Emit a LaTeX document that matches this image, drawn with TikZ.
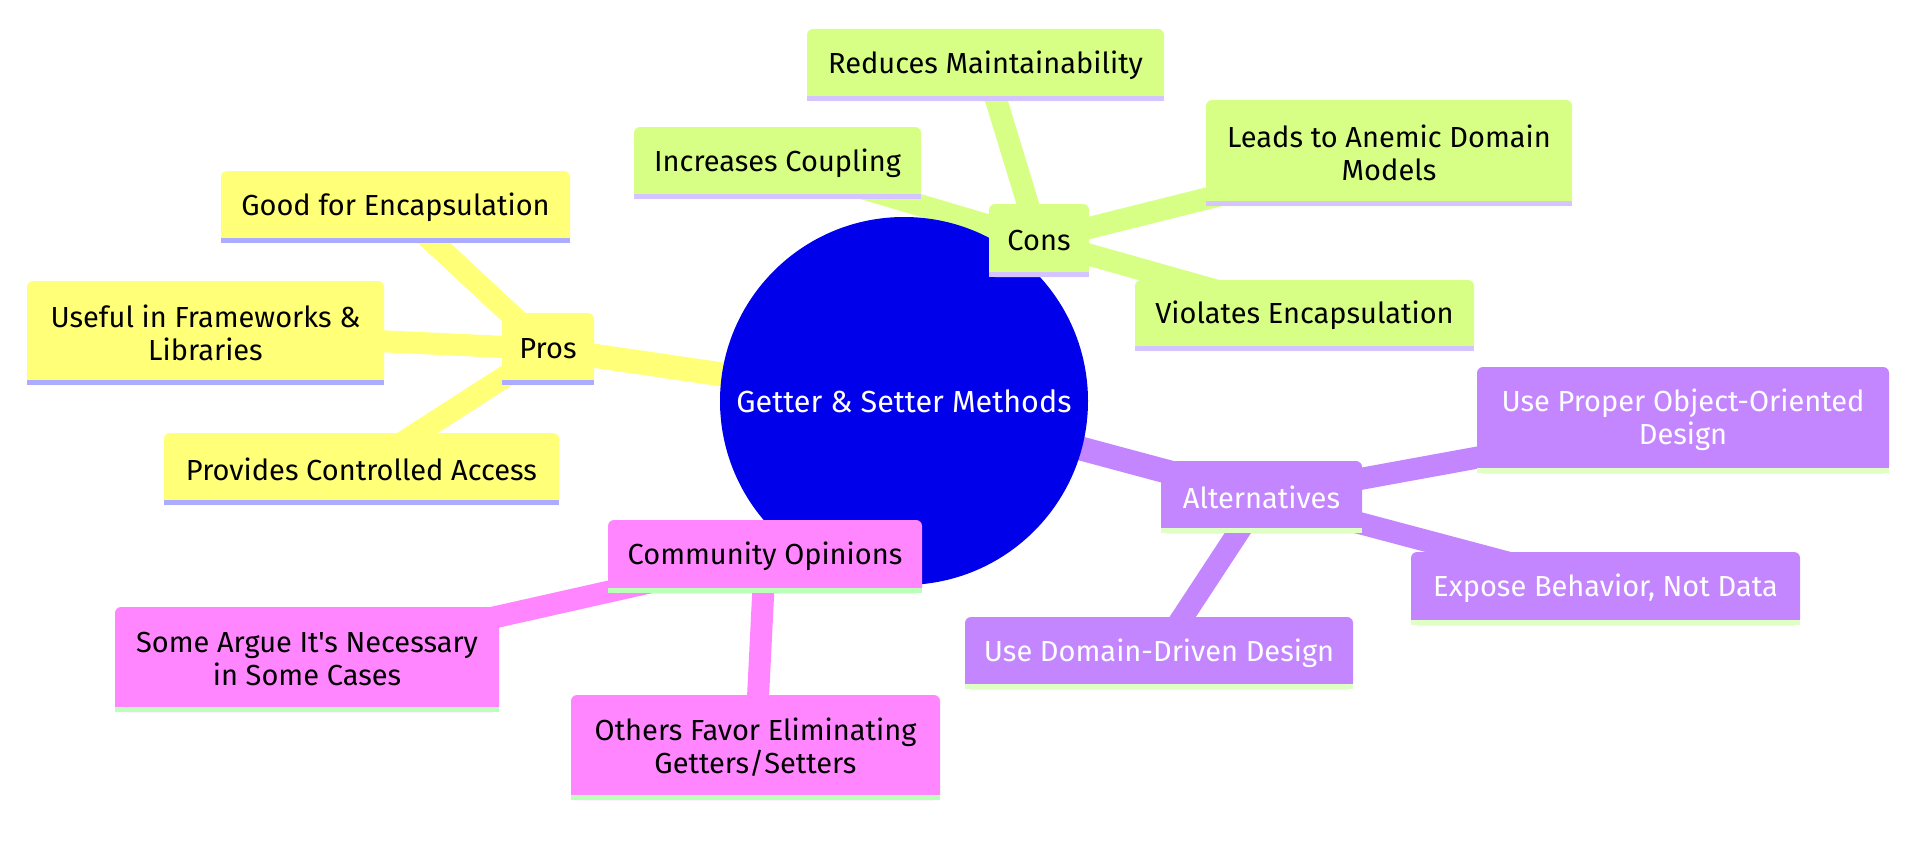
\documentclass[tikz,border=0pt]{standalone}
\usepackage{fontspec}
\setmainfont{Fira Sans}[Ligatures=TeXOff]
\definecolor{proY}{HTML}{FFFF78}
\definecolor{proBar}{HTML}{ABABFF}
\definecolor{conG}{HTML}{D7FF86}
\definecolor{conBar}{HTML}{D4C4FF}
\definecolor{altP}{HTML}{C386FF}
\definecolor{altBar}{HTML}{DFFFC4}
\definecolor{comP}{HTML}{FF86FF}
\definecolor{comBar}{HTML}{BBFFBB}
\definecolor{rootB}{HTML}{0000EA}
\pgfdeclarelayer{edges}
\pgfsetlayers{edges,main}
\begin{document}
\begin{tikzpicture}[x=1pt, y=-1pt, every node/.style={font=\fontsize{29}{33}\selectfont},
  mnode/.style={rectangle, rounded corners=6pt, inner sep=0pt, align=center},
  rootnode/.style={circle, fill=rootB, text=white, minimum size=368pt, inner sep=0pt,
    font=\fontsize{30.5}{35}\selectfont},
  edge/.style={line width=22pt},
  rootedge/.style={line width=24pt}]
  \useasboundingbox (0,0) rectangle (1917,867);
  % Root
  \node[rootnode] (root) at (904,401) {Getter \& Setter Methods};
  % Pros
  \node[mnode, fill=proY, minimum width=92pt, minimum height=72pt] (pros) at (548,349) {Pros};
  \node[mnode, fill=proY, minimum width=349pt, minimum height=72pt] (good) at (395.5,207) {Good for Encapsulation};
  \node[mnode, fill=proY, minimum width=357pt, minimum height=104pt] (useful) at (205.5,333) {Useful in Frameworks \&\\Libraries};
  \node[mnode, fill=proY, minimum width=395pt, minimum height=72pt] (provides) at (361.5,469) {Provides Controlled Access};
  % Cons
  \node[mnode, fill=conG, minimum width=100pt, minimum height=73pt] (cons) at (1039,240.5) {Cons};
  \node[mnode, fill=conG, minimum width=357pt, minimum height=72pt] (reduces) at (985.5,65) {Reduces Maintainability};
  \node[mnode, fill=conG, minimum width=287pt, minimum height=72pt] (increases) at (777.5,163) {Increases Coupling};
  \node[mnode, fill=conG, minimum width=366pt, minimum height=106pt] (leads) at (1389,153) {Leads to Anemic Domain\\Models};
  \node[mnode, fill=conG, minimum width=339pt, minimum height=71pt] (violates) at (1304.5,315.5) {Violates Encapsulation};
  % Alternatives
  \node[mnode, fill=altP, text=white, minimum width=201pt, minimum height=72pt] (alt) at (1261.5,497) {Alternatives};
  \node[mnode, fill=altP, text=white, minimum width=412pt, minimum height=106pt] (ooDesign) at (1683,420) {Use Proper Object-Oriented\\Design};
  \node[mnode, fill=altP, text=white, minimum width=389pt, minimum height=73pt] (expose) at (1605.5,588.5) {Expose Behavior, Not Data};
  \node[mnode, fill=altP, text=white, minimum width=388pt, minimum height=72pt] (ddd) at (1159,653) {Use Domain-Driven Design};
  % Community Opinions
  \node[mnode, fill=comP, minimum width=314pt, minimum height=73pt] (comm) at (765,556.5) {Community Opinions};
  \node[mnode, fill=comP, minimum width=384pt, minimum height=105pt] (argue) at (307,659.5) {Some Argue It's Necessary\\in Some Cases};
  \node[mnode, fill=comP, minimum width=369pt, minimum height=105pt] (others) at (755.5,747.5) {Others Favor Eliminating\\Getters/Setters};
  % bars under the boxes
  \foreach \n/\c in {pros/proBar, good/proBar, useful/proBar, provides/proBar,
      cons/conBar, reduces/conBar, increases/conBar, leads/conBar, violates/conBar,
      alt/altBar, ooDesign/altBar, expose/altBar, ddd/altBar,
      comm/comBar, argue/comBar, others/comBar}
    \fill[\c] ([yshift=5pt]\n.south west) rectangle (\n.south east);
  % Edges
  \begin{pgfonlayer}{edges}
    \draw[rootedge, proY] (root.center) -- (pros.center);
    \draw[rootedge, conG] (root.center) -- (cons.center);
    \draw[rootedge, altP] (root.center) -- (alt.center);
    \draw[rootedge, comP] (root.center) -- (comm.center);
    \foreach \n in {good, useful, provides} \draw[edge, proY] (pros.center) -- (\n.center);
    \foreach \n in {reduces, increases, leads, violates} \draw[edge, conG] (cons.center) -- (\n.center);
    \foreach \n in {ooDesign, expose, ddd} \draw[edge, altP] (alt.center) -- (\n.center);
    \foreach \n in {argue, others} \draw[edge, comP] (comm.center) -- (\n.center);
  \end{pgfonlayer}
\end{tikzpicture}
\end{document}
